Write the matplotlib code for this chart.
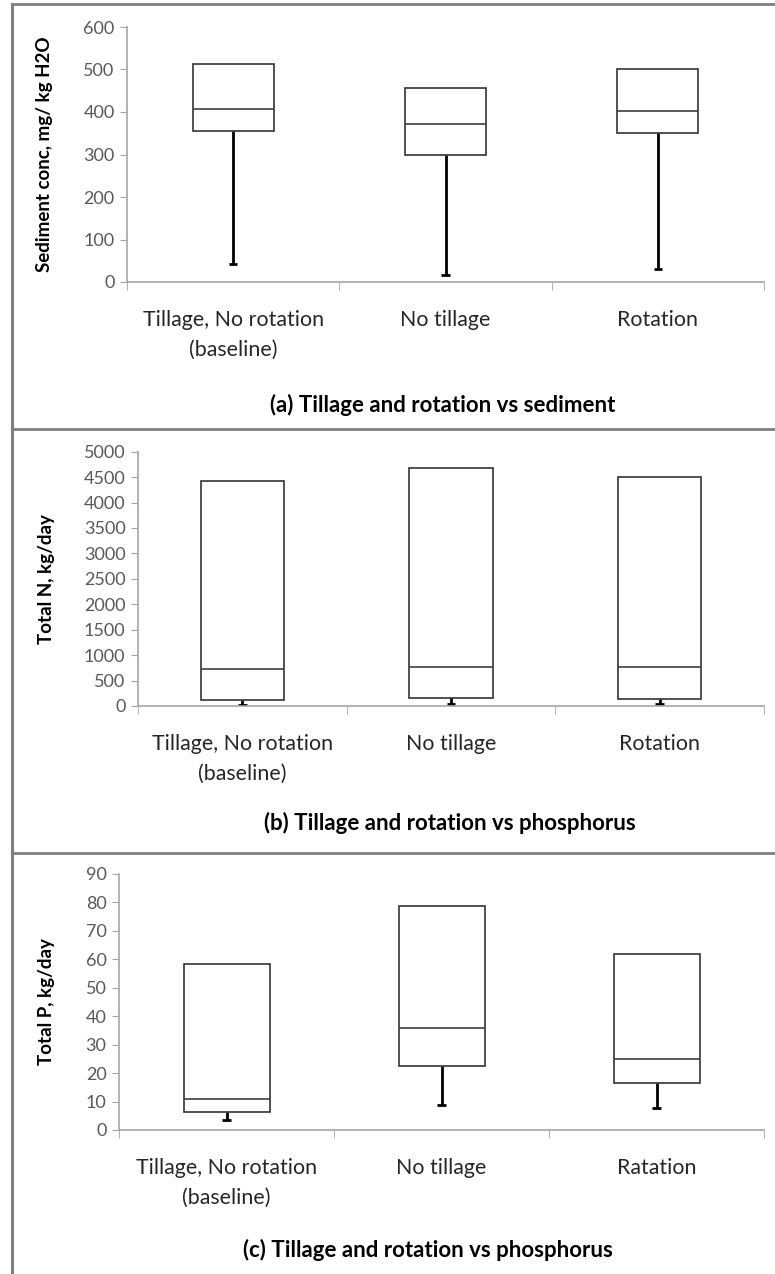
import matplotlib
matplotlib.use("Agg")
import matplotlib.pyplot as plt
from matplotlib.lines import Line2D

plt.rcParams['font.family'] = ['Lato', 'DejaVu Sans']

# category names per panel
cats_a = ["Tillage, No rotation\n(baseline)", "No tillage", "Rotation"]
cats_b = ["Tillage, No rotation\n(baseline)", "No tillage", "Rotation"]
cats_c = ["Tillage, No rotation\n(baseline)", "No tillage", "Ratation"]

# (a) sediment concentration, mg/kg H2O
sed_min = [42, 17, 31]
sed_q1 = [355, 300, 351]
sed_med = [407, 371, 403]
sed_q3 = [514, 457, 502]

# (b) total N, kg/day
n_min = [20, 40, 40]
n_q1 = [118, 151, 131]
n_med = [727, 773, 760]
n_q3 = [4417, 4672, 4509]

# (c) total P, kg/day
p_min = [3.5, 8.8, 7.8]
p_q1 = [6.3, 22.6, 16.6]
p_med = [11.0, 35.8, 25.0]
p_q3 = [58.2, 78.6, 62.0]

W, H = 775, 1274
fig = plt.figure(figsize=(W / 100, H / 100), dpi=100)

GRAY_AX = "#a6a6a6"
TICK_COL = "#595959"


def px_axes(x0, x1, ytop, ybot):
    return fig.add_axes([x0 / W, 1 - ybot / H, (x1 - x0) / W, (ybot - ytop) / H])


def draw_panel(ax, cats, mins, q1, med, q3, ymax, ystep, ylabel, box_w):
    xs = range(len(cats))
    for x, lo, a, m, b in zip(xs, mins, q1, med, q3):
        ax.bar(x, b - a, bottom=a, width=box_w, fill=False,
               edgecolor="#333333", linewidth=1.2, zorder=3)
        ax.hlines(m, x - box_w / 2, x + box_w / 2, color="#404040", linewidth=1.2, zorder=3)
        ax.vlines(x, lo, a, color="black", linewidth=2, zorder=2)
        ax.hlines(lo, x - 0.02, x + 0.02, color="black", linewidth=2, zorder=2)
    ax.set_xlim(-0.5, len(cats) - 0.5)
    ax.set_ylim(0, ymax)
    ax.set_yticks(range(0, ymax + 1, ystep))
    ax.set_xticks(list(xs))
    ax.set_xticklabels(cats, fontsize=15.4, color="#262626", linespacing=1.6)
    ax.set_xticks([i - 0.5 for i in range(len(cats) + 1)], minor=True)
    ax.tick_params(axis="x", which="major", length=0, pad=20)
    ax.tick_params(axis="x", which="minor", length=6, color=GRAY_AX, direction="out")
    ax.tick_params(axis="y", length=5, color=GRAY_AX, labelsize=13, labelcolor=TICK_COL, pad=4)
    for s in ("top", "right"):
        ax.spines[s].set_visible(False)
    for s in ("left", "bottom"):
        ax.spines[s].set_color(GRAY_AX)
        ax.spines[s].set_linewidth(1.2)
    ax.set_ylabel(ylabel, fontsize=13.5, fontweight="bold", color="black")


ax_a = px_axes(127, 764, 27, 282)
draw_panel(ax_a, cats_a, sed_min, sed_q1, sed_med, sed_q3, 600, 100,
           "Sediment conc, mg/ kg H2O", 0.38)
ax_a.yaxis.set_label_coords((53 - 127) / 637, 0.5)

ax_b = px_axes(138, 764, 451.7, 706)
draw_panel(ax_b, cats_b, n_min, n_q1, n_med, n_q3, 5000, 500,
           "Total N, kg/day", 0.40)
ax_b.yaxis.set_label_coords((55 - 138) / 626, 0.5)

ax_c = px_axes(119, 764, 874, 1130)
draw_panel(ax_c, cats_c, p_min, p_q1, p_med, p_q3, 90, 10,
           "Total P, kg/day", 0.40)
ax_c.yaxis.set_label_coords((55 - 119) / 645, 0.5)

# captions
fig.text(443 / W, 1 - 405 / H, "(a) Tillage and rotation vs sediment",
         ha="center", va="center", fontsize=16, fontweight="bold")
fig.text(450 / W, 1 - 823 / H, "(b) Tillage and rotation vs phosphorus",
         ha="center", va="center", fontsize=16, fontweight="bold")
fig.text(428 / W, 1 - 1250 / H, "(c) Tillage and rotation vs phosphorus",
         ha="center", va="center", fontsize=16, fontweight="bold")

# panel frame lines
frame = "#808080"
fig.add_artist(Line2D([12 / W, 12 / W], [0, 1 - 4 / H], color=frame, linewidth=2.2))
for yy in (4, 429, 853):
    fig.add_artist(Line2D([12 / W, 1], [1 - yy / H, 1 - yy / H], color=frame, linewidth=2))

fig.savefig("out.png", dpi=100, facecolor="white")
